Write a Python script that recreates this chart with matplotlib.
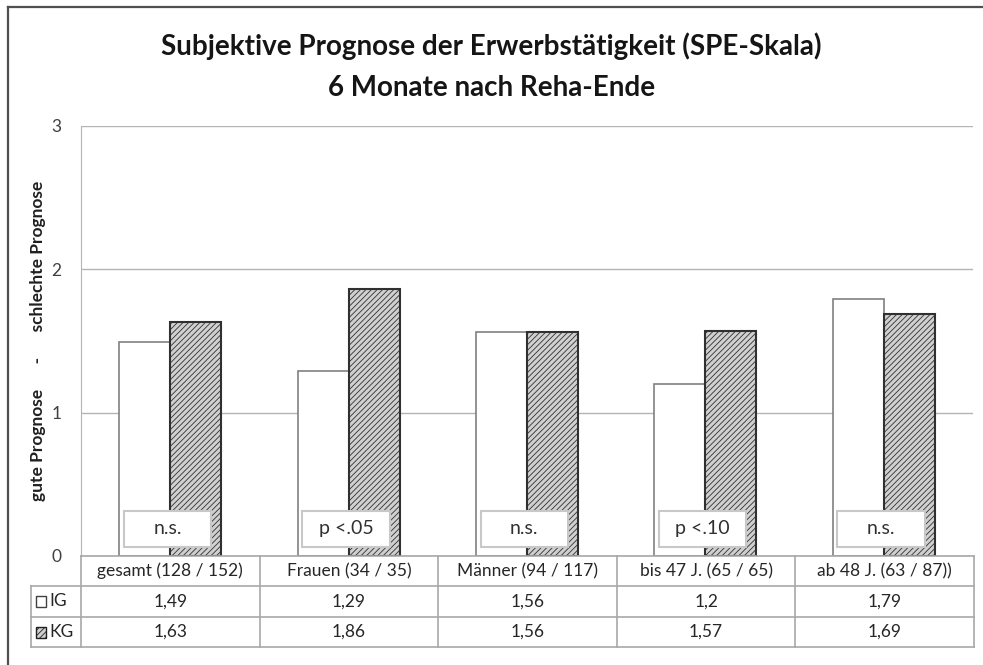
import matplotlib.pyplot as plt
from matplotlib.patches import Rectangle
from matplotlib.lines import Line2D

# Daten
gruppen = ["gesamt (128 / 152)", "Frauen (34 / 35)", "Männer (94 / 117)",
           "bis 47 J. (65 / 65)", "ab 48 J. (63 / 87))"]
ig = [1.49, 1.29, 1.56, 1.2, 1.79]
kg = [1.63, 1.86, 1.56, 1.57, 1.69]
signif = ["n.s.", "p <.05", "n.s.", "p <.10", "n.s."]
reihen = ["IG", "KG"]
y_ticks = [0, 1, 2, 3]

plt.rcParams['font.family'] = ['Lato', 'DejaVu Sans']
plt.rcParams['hatch.linewidth'] = 0.6

fig = plt.figure(figsize=(9.83, 6.65), dpi=100)

# Rahmen (links und oben sichtbar)
fig.add_artist(Line2D([8/983, 8/983], [0, 1 - 7/665], color='#505050', lw=1.6))
fig.add_artist(Line2D([8/983, 1], [1 - 7/665, 1 - 7/665], color='#505050', lw=1.6))

ax = fig.add_axes([81/983, 1 - 556/665, 892/983, 430/665])
x = [i + 0.5 for i in range(len(gruppen))]
bw = 1 / 3.5
hatch_face = '#d0d0d0'

ax.bar([v - bw/2 for v in x], ig, width=bw, color='white', edgecolor='#808080',
       lw=1.2, zorder=3)
ax.bar([v + bw/2 for v in x], kg, width=bw, color=hatch_face, edgecolor='#303030',
       hatch='//////', lw=1.5, zorder=3)

for i, s in enumerate(signif):
    cx = x[i] - 0.015
    ax.add_patch(Rectangle((cx - 0.245, 0.065), 0.49, 0.25, facecolor='white',
                           edgecolor='#c8c8c8', lw=1.5, zorder=4))
    ax.text(cx, 0.19, s, ha='center', va='center', fontsize=14, color='#303030', zorder=5)

ax.set_xlim(0, len(gruppen))
ax.set_ylim(0, 3)
ax.set_yticks(y_ticks)
ax.tick_params(axis='y', length=0, pad=14, labelsize=12.5, labelcolor='#404040')
ax.set_xticks([])
ax.grid(axis='y', color='#b4b4b4', lw=1, zorder=0)
for side in ['top', 'right', 'bottom']:
    ax.spines[side].set_visible(False)
ax.spines['left'].set_color('#b4b4b4')
ax.set_ylabel("gute Prognose      -      schlechte Prognose", fontsize=12.5,
              fontweight='bold', color='#202020')
ax.yaxis.set_label_coords(-35/892, 0.5)

fig.text(0.5, 1 - 55/665, "Subjektive Prognose der Erwerbstätigkeit (SPE-Skala)",
         ha='center', va='baseline', fontsize=20, fontweight='bold', color='#151515')
fig.text(0.5, 1 - 96/665, "6 Monate nach Reha-Ende",
         ha='center', va='baseline', fontsize=20, fontweight='bold', color='#151515')

# Datentabelle
left = (31 - 81) / (892 / 5)
tab = fig.add_axes([31/983, 1 - 647/665, (974 - 31)/983, 91/665])
tab.set_xlim(left, len(gruppen))
tab.set_ylim(3, 0)
tab.axis('off')
lc = '#a8a8a8'
tab.plot([0, len(gruppen)], [0, 0], color=lc, lw=1.2, clip_on=False)
for yy in [1, 2, 3]:
    tab.plot([left, len(gruppen)], [yy, yy], color=lc, lw=1.2, clip_on=False)
tab.plot([left, left], [1, 3], color=lc, lw=1.2, clip_on=False)
for k in range(len(gruppen) + 1):
    tab.plot([k, k], [0, 3], color=lc, lw=1.2, clip_on=False)

fs = 12.5
for i, g in enumerate(gruppen):
    tab.text(x[i], 0.5, g, ha='center', va='center', fontsize=fs, color='#262626')
    tab.text(x[i], 1.5, str(ig[i]).replace('.', ','), ha='center', va='center',
             fontsize=fs, color='#262626')
    tab.text(x[i], 2.5, str(kg[i]).replace('.', ','), ha='center', va='center',
             fontsize=fs, color='#262626')

kw = 10 / (892 / 5)
for r, name in enumerate(reihen):
    if name == "IG":
        tab.add_patch(Rectangle((left + 0.03, r + 1.33), kw, 0.36, facecolor='white',
                                edgecolor='#404040', lw=1, clip_on=False))
    else:
        tab.add_patch(Rectangle((left + 0.03, r + 1.33), kw, 0.36, facecolor=hatch_face,
                                edgecolor='#202020', hatch='//////', lw=1, clip_on=False))
    tab.text(left + 0.03 + kw + 0.015, r + 1.5, name, ha='left', va='center',
             fontsize=fs, color='#262626')

fig.savefig('out.png', dpi=100)
